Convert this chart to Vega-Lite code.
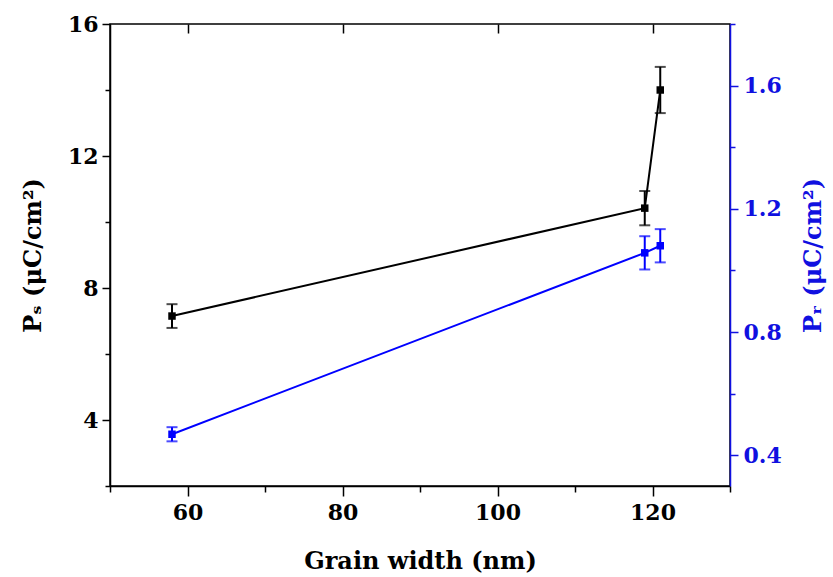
{
  "$schema": "https://vega.github.io/schema/vega-lite/v6.json",
  "width": 620,
  "height": 462,
  "autosize": "none",
  "padding": {"left": 110, "top": 24, "right": 103, "bottom": 91},
  "background": "white",
  "config": {
    "view": {"stroke": "black", "strokeWidth": 1.5},
    "font": "DejaVu Serif",
    "axis": {"grid": false, "labelFont": "DejaVu Serif", "titleFont": "DejaVu Serif", "labelFontWeight": "bold", "titleFontWeight": "bold", "labelFontSize": 22, "titleFontSize": 24, "domainWidth": 1.5, "tickWidth": 1.5}
  },
  "data": {
    "values": [
      {"w": 58, "ps": 7.15, "pse": 0.36, "pr": 0.468, "pre": 0.023},
      {"w": 119, "ps": 10.42, "pse": 0.52, "pr": 1.057, "pre": 0.054},
      {"w": 121, "ps": 14.0, "pse": 0.7, "pr": 1.08, "pre": 0.054}
    ]
  },
  "layer": [
    {
      "encoding": {
        "x": {"field": "w", "type": "quantitative", "scale": {"domain": [50, 130], "nice": false, "zero": false},
          "axis": {"orient": "bottom", "title": "Grain width (nm)", "titleFontSize": 24, "values": [50, 60, 70, 80, 90, 100, 110, 120, 130],
            "labelExpr": "datum.value % 20 == 0 ? datum.label : ''",
            "tickSize": {"condition": {"test": "datum.value % 20 == 0", "value": 10}, "value": 6},
            "labelPadding": 6, "titlePadding": 26, "domainColor": "black", "tickColor": "black", "labelColor": "black", "titleColor": "black"}},
        "y": {"field": "ps", "type": "quantitative", "scale": {"domain": [2, 16], "nice": false, "zero": false},
          "axis": {"orient": "left", "title": "Pₛ (μC/cm²)", "values": [2, 4, 6, 8, 10, 12, 14, 16],
            "labelExpr": "datum.value % 4 == 0 ? datum.label : ''",
            "tickSize": {"condition": {"test": "datum.value % 4 == 0", "value": 8}, "value": 5},
            "labelPadding": 4, "titlePadding": 22, "domainColor": "black", "tickColor": "black", "labelColor": "black", "titleColor": "black"}}
      },
      "layer": [
        {"mark": {"type": "line", "color": "black", "strokeWidth": 2}},
        {"mark": {"type": "errorbar", "ticks": true, "size": 11, "thickness": 2, "color": "black"}, "encoding": {"yError": {"field": "pse"}}},
        {"mark": {"type": "point", "shape": "square", "filled": true, "size": 56, "color": "black", "opacity": 1}}
      ]
    },
    {
      "encoding": {
        "x": {"field": "w", "type": "quantitative", "scale": {"domain": [50, 130], "nice": false, "zero": false},
          "axis": {"orient": "top", "title": "", "labelExpr": "''", "values": [60, 80, 100, 120],
            "ticks": true, "tickSize": 9, "offset": -9,
            "domainOpacity": 0, "tickColor": "black", "tickOpacity": 1}},
        "y": {"field": "pr", "type": "quantitative", "scale": {"domain": [0.3, 1.8], "nice": false, "zero": false},
          "axis": {"orient": "right", "title": "Pᵣ (μC/cm²)", "titleAngle": -90, "values": [0.4, 0.6, 0.8, 1.0, 1.2, 1.4, 1.6, 1.8],
            "labelExpr": "(round(datum.value * 10) % 4 == 0) ? format(datum.value, '.1f') : ''",
            "tickSize": {"condition": {"test": "round(datum.value * 10) % 4 == 0", "value": 8}, "value": 5},
            "labelPadding": 5, "titlePadding": 44, "domainColor": "#1010e0", "tickColor": "#1010e0", "labelColor": "#1010e0", "titleColor": "#1010e0"}}
      },
      "layer": [
        {"mark": {"type": "line", "color": "#0000ff", "strokeWidth": 2}},
        {"mark": {"type": "errorbar", "ticks": true, "size": 11, "thickness": 2, "color": "#0000ff"}, "encoding": {"yError": {"field": "pre"}}},
        {"mark": {"type": "point", "shape": "square", "filled": true, "size": 56, "color": "#0000ff", "opacity": 1}}
      ]
    }
  ],
  "resolve": {"scale": {"x": "independent", "y": "independent"}, "axis": {"x": "independent", "y": "independent"}}
}
